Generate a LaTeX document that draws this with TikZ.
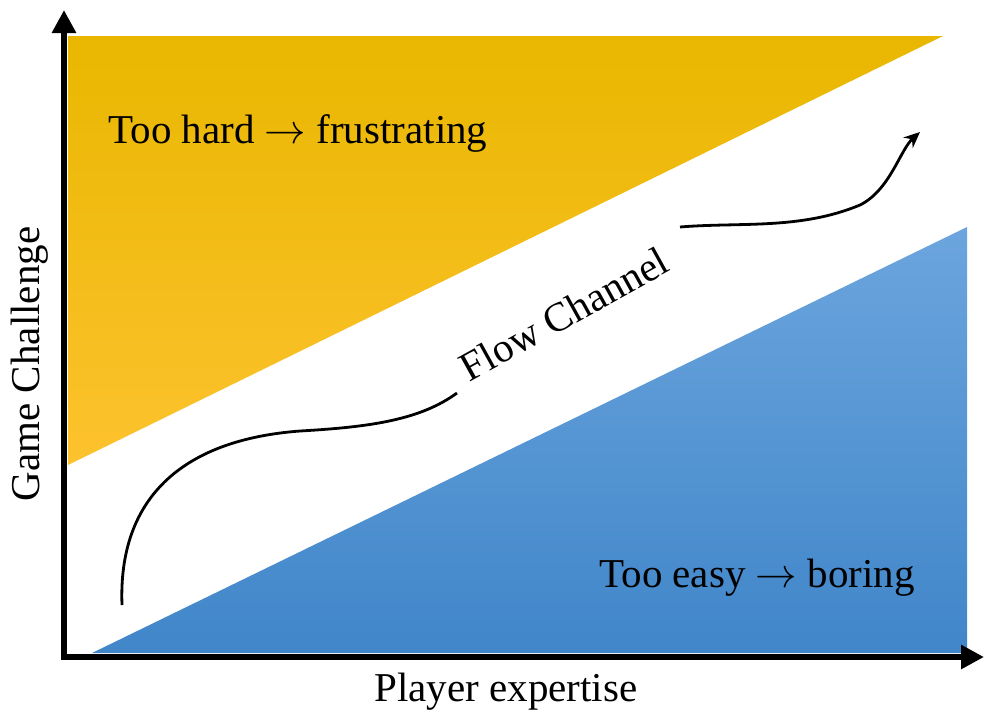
\documentclass[tikz,border=0pt]{standalone}
\usepackage{fontspec}
\setmainfont{Liberation Serif}
\usetikzlibrary{arrows.meta, positioning}
\definecolor{hardtop}{RGB}{233,183,0}
\definecolor{hardbot}{RGB}{253,194,46}
\definecolor{easytop}{RGB}{108,165,222}
\definecolor{easybot}{RGB}{64,134,201}
\tikzstyle{axis} = [line width=3.3pt, {Triangle[length=11.5pt,width=11.5pt]}-{Triangle[length=11.5pt,width=11.5pt]}]
\tikzstyle{label} = [font=\fontsize{20.5}{24}\selectfont, inner sep=0pt]
\tikzstyle{arrow} = [line width=1.4pt, -{Stealth[length=8pt,width=7pt]}]

\begin{document}
\begin{tikzpicture}[x=0.5pt, y=-0.5pt]
\useasboundingbox (0,0) rectangle (984,719);

% zones
\shade[top color=hardtop, bottom color=hardbot] (68,36) -- (943,36) -- (68,465) -- cycle;
\shade[top color=easytop, bottom color=easybot] (92,653) -- (967,227) -- (967,653) -- cycle;

% axes
\coordinate (ytop) at (64,10);
\coordinate (xend) at (984,657);
\draw[axis] (ytop) |- (xend);

\node (ylab) [label, rotate=90] at (30,364) {Game Challenge};
\node (xlab) [label] at (506,692) {Player expertise};

\node (hard) [label, anchor=west] at (108,133) {Too hard $\rightarrow$ frustrating};
\node (easy) [label, anchor=east] at (915,578) {Too easy $\rightarrow$ boring};

% the channel and the path through it
\node (flow) [label, rotate=29] at (564,314) {Flow Channel};
\coordinate (start) at (122,605);
\coordinate (gapin) at (457,393);
\coordinate (gapout) at (680,227);
\coordinate (goal) at (920,132);
\draw[line width=1.4pt] (start) .. controls (118,500) and (180,440) .. (300,431)
  .. controls (370,427) and (420,420) .. (gapin);
\draw[arrow] (gapout) .. controls (740,222) and (800,230) .. (860,205)
  .. controls (890,190) and (900,150) .. (goal);

\end{tikzpicture}
\end{document}
